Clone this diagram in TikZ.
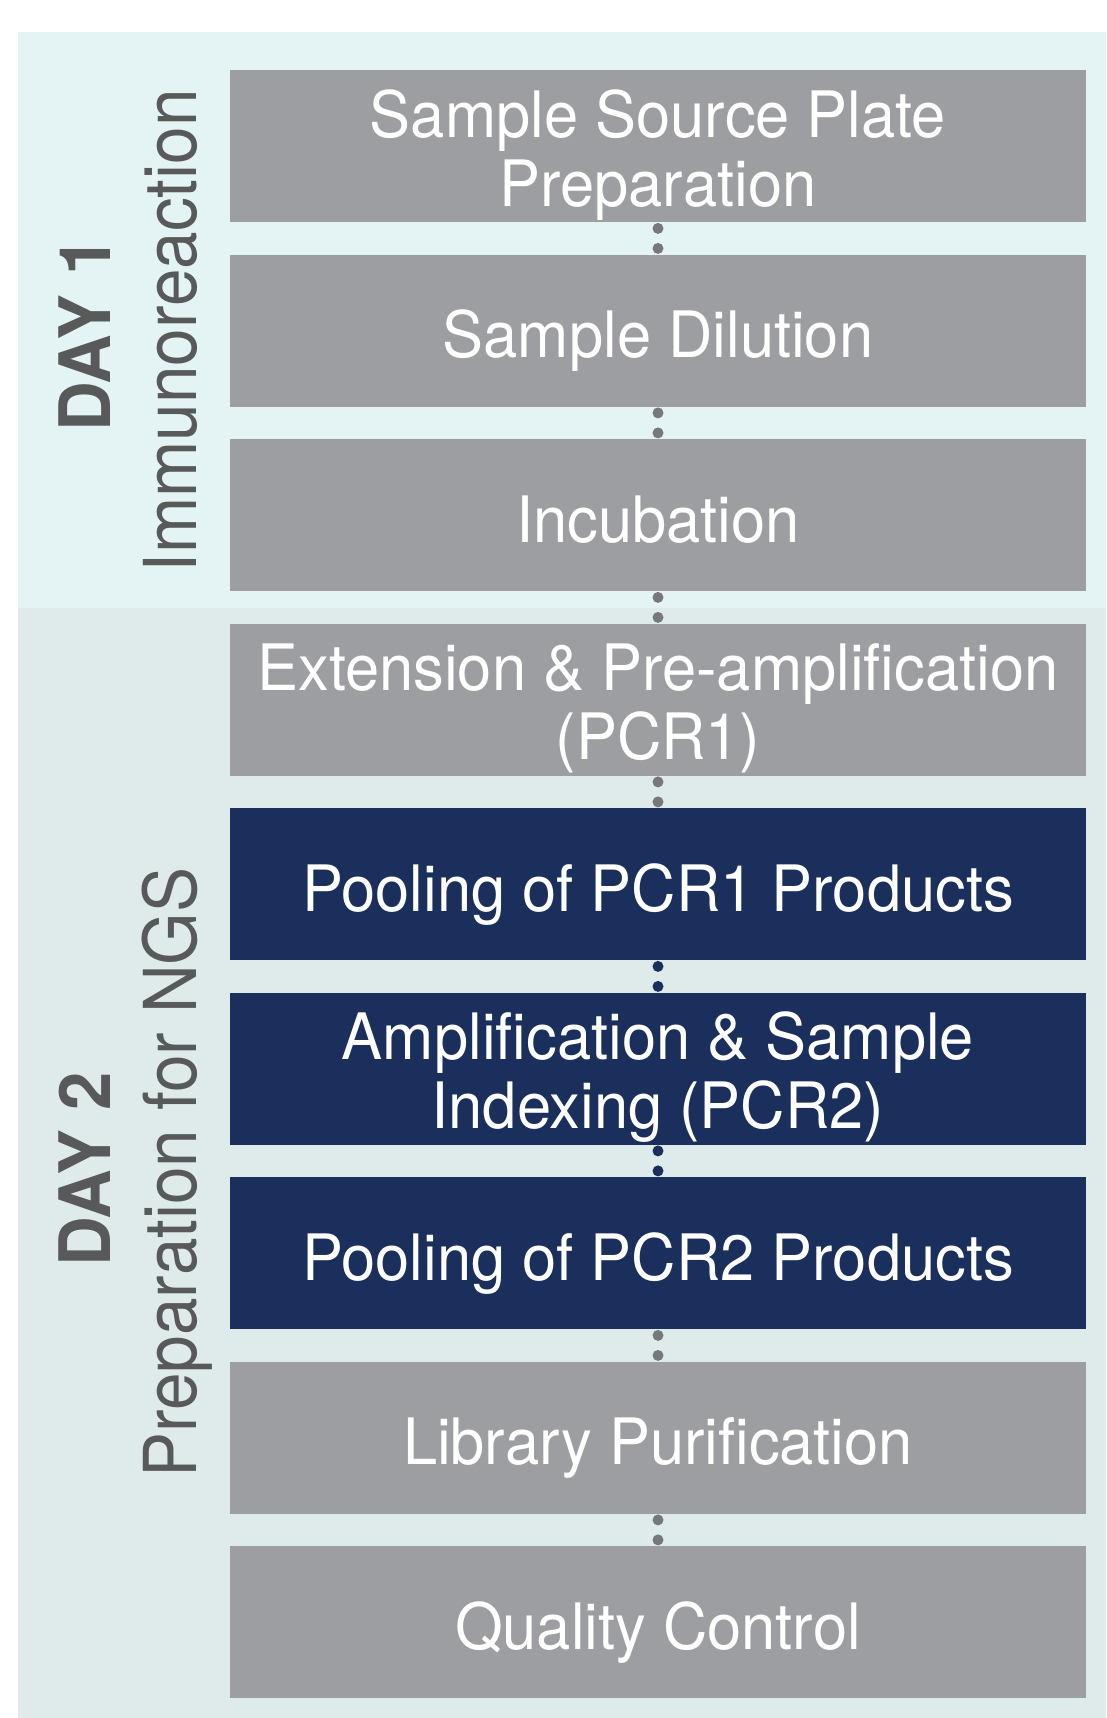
\documentclass[tikz,border=0pt]{standalone}
\usepackage{fontspec}
\setmainfont{TeX Gyre Heros}
\newfontfamily\boxfont{TeX Gyre Heros}[FakeStretch=0.96]
\newfontfamily\dayfont{TeX Gyre Heros}[FakeStretch=0.97]
\newfontfamily\phasefont{TeX Gyre Heros}[FakeStretch=0.925]
\definecolor{dayonebg}{HTML}{E4F4F4}
\definecolor{daytwobg}{HTML}{DFEBEB}
\definecolor{boxgray}{HTML}{9D9EA2}
\definecolor{boxnavy}{HTML}{1A2F5C}
\definecolor{dotgray}{HTML}{77787B}
\definecolor{lblgray}{HTML}{58595B}
\begin{document}
\begin{tikzpicture}[x=1pt,y=-1pt,
  stepbox/.style={rectangle, inner sep=0pt, minimum width=856pt, minimum height=152pt,
    anchor=north, text=white, font=\boxfont\fontsize{64}{69}\selectfont, align=center},
  greybox/.style={stepbox, fill=boxgray},
  navybox/.style={stepbox, fill=boxnavy},
  oneline/.style={text height=54pt, text depth=0pt},
  twoline/.style={text height=120pt, text depth=0pt},
  dotline/.style={line width=11pt, line cap=round, dash pattern=on 0pt off 20pt,
    shorten <=6pt, shorten >=5pt, draw=#1},
  daylbl/.style={rotate=90, anchor=base, inner sep=0pt, text=lblgray,
    font=\dayfont\bfseries\fontsize{71}{80}\selectfont},
  phaselbl/.style={rotate=90, anchor=base, inner sep=0pt, text=lblgray,
    font=\phasefont\fontsize{73}{80}\selectfont}
]
\useasboundingbox (0,0) rectangle (1106,1718);
\fill[white] (0,0) rectangle (1106,1718);
\fill[dayonebg] (18,32) rectangle (1106,608);
\fill[daytwobg] (18,608) rectangle (1106,1718);

\node[greybox, twoline] (b1) at (658,70) {Sample Source Plate\\Preparation};
\node[greybox, oneline] (b2) at (658,254.5) {Sample Dilution};
\node[greybox, oneline] (b3) at (658,439) {Incubation};
\node[greybox, twoline] (b4) at (658,623.5) {Extension \& Pre-amplification\\(PCR1)};
\node[navybox, oneline] (b5) at (658,808) {Pooling of PCR1 Products};
\node[navybox, twoline] (b6) at (658,992.5) {Amplification \& Sample\\Indexing (PCR2)};
\node[navybox, oneline] (b7) at (658,1177) {Pooling of PCR2 Products};
\node[greybox, oneline] (b8) at (658,1361.5) {Library Purification};
\node[greybox, oneline] (b9) at (658,1546) {Quality Control};

\draw[dotline=dotgray] (b1.south) -- (b2.north);
\draw[dotline=dotgray] (b2.south) -- (b3.north);
\draw[dotline=dotgray] (b3.south) -- (b4.north);
\draw[dotline=dotgray] (b4.south) -- (b5.north);
\draw[dotline=boxnavy] (b5.south) -- (b6.north);
\draw[dotline=boxnavy] (b6.south) -- (b7.north);
\draw[dotline=dotgray] (b7.south) -- (b8.north);
\draw[dotline=dotgray] (b8.south) -- (b9.north);

\node[daylbl] (d1) at (110,334.5) {DAY 1};
\node[phaselbl] (p1) at (196,331) {Immunoreaction};
\node[daylbl] (d2) at (110,1169.5) {DAY 2};
\node[phaselbl] (p2) at (196,1172.5) {Preparation for NGS};
\end{tikzpicture}
\end{document}
